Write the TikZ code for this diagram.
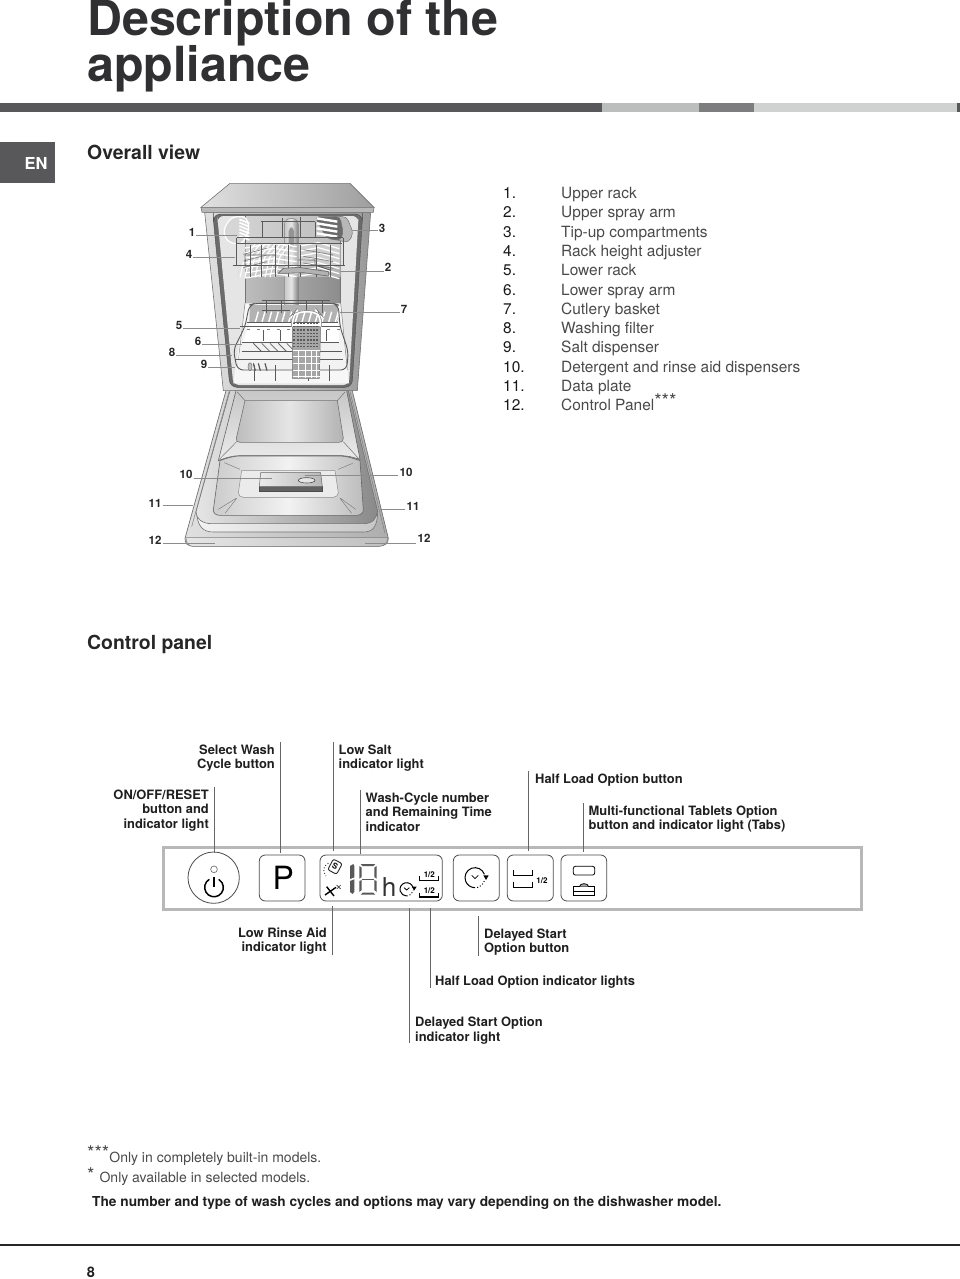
\documentclass[tikz,border=0pt]{standalone}
\usepackage{fontspec}
\setmainfont{TeX Gyre Heros}
\usetikzlibrary{calc}
\definecolor{barD}{HTML}{58585A}
\definecolor{barL}{HTML}{BCBEBE}
\definecolor{barM}{HTML}{7D7D80}
\definecolor{barX}{HTML}{D0D2D2}
\definecolor{ttl}{HTML}{303032}
\definecolor{txt}{HTML}{4A4A4C}
\definecolor{wire}{HTML}{5A5A5A}
\tikzset{
 fn/.style={font=\fontsize{12.9}{14.6}\selectfont\bfseries,inner sep=0pt,text=black!88},
 lr/.style={fn,align=left,inner xsep=5.5pt,inner ysep=2.5pt},
 rr/.style={fn,align=right,inner xsep=5pt,inner ysep=2.5pt},
 lo/.style={fn,align=left,inner xsep=5.5pt,inner ysep=0pt},
 ro/.style={fn,align=right,inner xsep=5pt,inner ysep=0pt},
 lead/.style={draw=black!60,line width=0.8pt},
 num/.style={font=\fontsize{11.5}{12}\selectfont\bfseries,inner sep=1pt,text=black!85},
 nlead/.style={draw=black!45,line width=0.9pt},
 listn/.style={anchor=base west,inner sep=0pt,font=\fontsize{15.45}{16}\selectfont,text=black!90},
 listt/.style={anchor=base west,inner sep=0pt,font=\fontsize{15.45}{16}\selectfont,text=txt},
 head/.style={anchor=base west,inner sep=0pt,font=\fontsize{19.4}{22}\selectfont\bfseries,text=black!85},
 ttlfont/.style={anchor=base west,inner sep=0pt,font=\fontsize{48.4}{46}\selectfont\bfseries,text=ttl},
 btn/.style={draw=black!70,line width=0.8pt,rounded corners=6pt,fill=white},
 rl/.style={draw=wire,line width=0.9pt},
 small12/.style={inner sep=0pt,font=\fontsize{8}{8}\selectfont\bfseries},
}
\begin{document}
\begin{tikzpicture}[x=1pt,y=-1pt]
\useasboundingbox (0,0) rectangle (960,1279);
\fill[white] (0,0) rectangle (960,1279);
% title
\node[ttlfont] (t1) at (87,36) {Description of the};
\node[ttlfont] (t2) at (87,82) {appliance};
% colour bar
\fill[barD] (0,103) rectangle (602,112);
\fill[barL] (602,103) rectangle (699,112);
\fill[barM] (699,103) rectangle (754,112);
\fill[barX] (754,103) rectangle (957,112);
\fill[barD] (957,103) rectangle (960,112);
% EN
\fill[barD] (0,142) rectangle (55,183);
\node[inner sep=0pt,font=\fontsize{16.5}{18}\selectfont\bfseries,text=white] (en) at (36,163) {EN};
\node[head] (ov) at (87,159) {Overall view};
\node[head] (cp) at (87,649) {Control panel};
% ---------------- DOOR
\begin{scope}[shift={(130,370)},scale=1/3]
\path[draw=black!55,line width=0.7pt,left color=black!12,right color=black!32] (290,55) -- (165,505) .. controls (165,520) and (172,528) .. (190,529) -- (745,529) .. controls (765,528) and (775,520) .. (775,505) -- (665,55) -- cycle;
\path[draw=black!50,line width=0.5pt,left color=black!10,right color=black!25] (168,503) .. controls (168,520) and (175,528) .. (190,529) -- (745,529) .. controls (765,528) and (773,520) .. (773,503) -- cycle;
\draw[black!50,line width=0.5pt] (297,65) -- (185,470);
\draw[black!50,line width=0.5pt] (660,65) -- (765,490);
\path[draw=black!55,line width=0.6pt,left color=black!5,right color=black!22] (200,420) .. controls (200,470) and (220,486) .. (250,486) -- (700,486) .. controls (730,486) and (743,470) .. (743,420) -- cycle;
\path[draw=black!55,line width=0.6pt,left color=black!10,right color=black!46] (300,62) -- (198,425) .. controls (198,445) and (215,461) .. (245,461) -- (700,461) .. controls (728,461) and (742,445) .. (742,420) -- (655,62) -- cycle;
% top recess
\path[draw=black!60,line width=0.6pt,top color=black!22,bottom color=black!8] (318,62) -- (650,62) -- (690,268) .. controls (655,257) and (640,257) .. (630,257) -- (330,257) .. controls (310,257) and (290,262) .. (265,272) -- cycle;
\path[draw=black!55,line width=0.6pt,left color=black!26,right color=black!30,middle color=black!10] (345,92) -- (622,92) -- (640,205) .. controls (640,212) and (635,217) .. (628,217) -- (330,217) .. controls (322,217) and (318,212) .. (319,205) -- cycle;
\draw[black!55,line width=0.5pt] (322,66)--(345,92) (645,66)--(622,92) (268,268)--(320,215) (688,268)--(640,215);
% lower recess
\path[draw=black!60,line width=0.6pt,left color=black!20,right color=black!26,middle color=black!5] (270,272) .. controls (295,262) and (315,258) .. (330,258) -- (630,258) .. controls (650,258) and (670,265) .. (690,272) -- (700,420) .. controls (700,430) and (690,436) .. (680,436) -- (270,436) .. controls (258,436) and (250,430) .. (250,420) -- cycle;
\path[draw=black!45,line width=0.5pt,fill=black!8] (335,302) -- (615,302) -- (625,368) .. controls (625,376) and (618,382) .. (610,382) -- (340,382) .. controls (332,382) and (325,376) .. (325,368) -- cycle;
\draw[black!50,line width=0.5pt] (283,278)--(330,298) (668,280)--(625,298) (320,385)--(285,430) (318,385)--(265,418) (630,385)--(665,430) (632,385)--(677,418);
% dispenser
\path[fill=black!62,draw=black!70,line width=0.4pt] (388,348) rectangle (577,363);
\path[draw=black!60,line width=0.5pt,left color=black!8,right color=black!28] (392,308) -- (572,308) -- (577,350) -- (388,350) -- cycle;
\draw[black!70,line width=0.6pt,fill=black!10] (530,331) ellipse (25 and 8);
\end{scope}
% ---------------- CABINET
\begin{scope}[shift={(130,170)},scale=1/3]
\path[draw=black!55,line width=0.6pt,left color=black!12,right color=black!40] (224,127) -- (280,662) -- (682,662) -- (722,127) -- cycle;
\path[fill=black!58,draw=black!70,line width=0.4pt,rounded corners=7pt] (250,150) -- (250,132) -- (697,132) -- (697,150) -- (666,652) -- (300,652) -- cycle;
\path[fill=black!10,rounded corners=6pt] (263,150) -- (263,138) -- (685,138) -- (685,150) -- (657,645) -- (310,645) -- cycle;
% back wall
\path[left color=black!18,right color=black!26] (345,138) rectangle (632,290);
\path[left color=black!26,right color=black!45] (345,290) rectangle (632,405);
\path[fill=black!6] (345,405) rectangle (632,640);
\draw[black!55,line width=0.5pt] (345,138)--(345,400) (632,138)--(632,400);
\path[fill=black!3] (310,640)--(345,400)--(632,400)--(657,640)--cycle;
\draw[black!50,line width=0.5pt] (345,400)--(322,600) (632,400)--(652,600);
% top
\path[draw=black!55,line width=0.6pt,left color=black!12,right color=black!38] (300,40) -- (660,40) -- (732,112) -- (213,112) -- cycle;
\path[draw=black!55,line width=0.6pt,fill=black!28] (213,112) -- (732,112) -- (730,127) -- (216,127) -- cycle;
% spray tube
\path[draw=black!50,line width=0.5pt,left color=black!22,right color=black!50,middle color=black!10] (463,420) -- (463,165) .. controls (463,150) and (475,145) .. (484,145) .. controls (495,145) and (505,150) .. (505,165) -- (505,420) -- cycle;
\path[fill=black!42,rounded corners=4pt] (476,235) -- (476,172) -- (492,172) -- (492,235) -- cycle;
% tip-up left
\path[draw=white,line width=1.2pt,fill=black!16,rounded corners=5pt] (280,178) -- (305,140) -- (350,140) -- (358,178) -- (335,225) -- (290,215) -- cycle;
\foreach \y in {148,158,...,198}{\draw[white,line width=1.6pt] (328,\y) -- (358,\y+12) ;}
% tip-up right
\path[draw=black!55,line width=0.5pt,fill=black!28,rounded corners=4pt] (600,140) -- (650,140) -- (670,190) -- (655,218) -- (600,205) -- cycle;
\path[draw=black!55,line width=0.5pt,fill=black!58,rounded corners=4pt] (555,140) -- (630,140) -- (640,190) -- (630,212) -- (590,205) -- cycle;
\foreach \y in {145,160,...,190}{\draw[white,line width=2.4pt] (560,\y) -- (622,\y+10);}
% upper rack white zigzag
\path[fill=black!12,opacity=.45] (320,222) rectangle (640,322);
\foreach \x in {330,345,...,435}{\draw[white,line width=1.1pt] (\x,322) -- (\x+14,262) -- (\x+45,222);}
\foreach \y in {228,243,...,318}{\draw[white,line width=1.3pt] (510,\y) -- (565,\y-10) -- (628,\y+8);}
\foreach \y in {228,243,...,318}{\draw[white,line width=1.3pt] (345,\y+6) -- (430,\y-8) -- (500,\y+2);}
\foreach \y in {245,265,285}{\draw[black!50,line width=0.7pt] (340,\y+8) -- (410,\y-10);\draw[black!50,line width=0.7pt] (520,\y-6) -- (610,\y+10);}
\path[fill=black!15] (463,292) rectangle (505,312);
% wires of upper rack
\draw[rl] (320,203) -- (640,203) (318,203) -- (318,285) -- (345,285) (640,203) -- (640,285) (308,285) -- (645,285);
\draw[rl] (322,220) -- (636,220);
\draw[rl] (392,155) -- (555,155) (398,155)--(398,205) (510,140)--(510,205) (458,145)--(458,205) (555,155)--(555,200);
\foreach \x in {360,395,435,475,510,560,600}{\draw[rl] (\x,225) -- (\x,320);}
\draw[rl] (345,285) -- (345,255) -- (440,255) (505,270) -- (555,270) -- (555,285) -- (600,300);
% arm
\path[draw=black!60,line width=0.6pt,fill=black!30] (445,310) -- (460,295) -- (505,292) -- (595,305) -- (595,318) -- (520,308) -- (460,310) -- cycle;
% lower rack
\path[fill=black!5,draw=none] (358,405) -- (625,405) -- (640,510) -- (650,600) -- (320,600) -- (335,510) -- cycle;
\path[fill=white] (360,458) -- (625,458) -- (628,518) -- (338,518) -- cycle;
\path[fill=black!30] (360,405) -- (625,405) -- (622,458) -- (358,458) -- cycle;
\foreach \x in {375,395,...,615}{\draw[white,line width=1.4pt] (\x,460) -- (\x+10,425);}
\foreach \x in {350,380,...,620}{\draw[black!50,line width=0.5pt,dashed] (\x,478) -- (\x+14,478);}
\foreach \x in {370,395,...,470}{\draw[black!60,line width=0.8pt] (\x,520) -- (\x+25,545);}
\draw[rl,rounded corners=6pt] (375,400) -- (358,405) -- (345,470) -- (310,540) -- (322,600) -- (650,600) -- (655,545) -- (630,470) -- (625,405) -- (610,400) -- cycle;
\draw[rl] (335,518) -- (628,518) (335,545) -- (635,545) (315,568) -- (640,568) (352,458) -- (625,458) (330,470) -- (632,470);
\draw[rl] (395,392) -- (600,392) (410,392)--(410,430) (455,392)--(455,430) (530,392)--(530,420) (578,392)--(578,430);
\draw[rl] (395,422) -- (480,422);
\foreach \x in {372,435,535,597}{\draw[rl] (\x,585) -- (\x,632);}
\foreach \x in {400,450,590}{\draw[rl] (\x,480) -- (\x,512);}
\foreach \x in {370,385,405}{\draw[black!65,line width=1.2pt] (\x,580) -- (\x+6,602);}
\path[draw=black!55,line width=0.5pt,fill=black!25] (360,590) ellipse (6 and 12);
% basket
\path[draw=black!55,line width=0.5pt,fill=black!35] (487,470) -- (572,470) -- (568,625) -- (487,625) -- cycle;
\draw[white,line width=2pt,rounded corners=8pt] (487,470) -- (487,437) -- (497,425) -- (562,425) -- (572,437) -- (572,470);
\draw[black!55,line width=0.4pt,rounded corners=9pt] (484,470) -- (484,435) -- (496,422) -- (564,422) -- (575,435) -- (575,470);
\foreach \y in {460,470,...,530}{\draw[black!65,line width=1.2pt,dash pattern=on 2pt off 1.3pt] (490,\y) -- (568,\y);}
\foreach \y in {540,560,...,620}{\draw[white,line width=0.8pt] (488,\y) -- (569,\y);}
\foreach \x in {505,525,545,560}{\draw[white,line width=0.8pt] (\x,540) -- (\x,625);}
\end{scope}
% number labels
\node[num] (n1) at (192,232) {1};
\coordinate (e1) at (237,235.7);
\draw[nlead] ([yshift=-3.7pt]n1.east) -- (e1);
\node[num] (n4) at (189,254) {4};
\coordinate (e4) at (235,257.4);
\draw[nlead] ([yshift=-3.4pt]n4.east) -- (e4);
\node[num] (n3) at (382,228) {3};
\coordinate (e3) at (352,230);
\draw[nlead] ([yshift=-2pt]n3.west) -- (e3);
\node[num] (n2) at (388,267) {2};
\coordinate (e2) at (340,271);
\draw[nlead] ([yshift=-4pt]n2.west) -- (e2);
\node[num] (n7) at (404,309) {7};
\coordinate (e7) at (340,312);
\draw[nlead] ([yshift=-3pt]n7.west) -- (e7);
\node[num] (n5) at (179,325) {5};
\coordinate (e5) at (240,328);
\draw[nlead] ([yshift=-3pt]n5.east) -- (e5);
\node[num] (n6) at (198,341) {6};
\coordinate (e6) at (242,344);
\draw[nlead] ([yshift=-3pt]n6.east) -- (e6);
\node[num] (n8) at (172,352) {8};
\coordinate (e8) at (232,355);
\draw[nlead] ([yshift=-3pt]n8.east) -- (e8);
\node[num] (n9) at (204,364) {9};
\coordinate (e9) at (235,367);
\draw[nlead] ([yshift=-3pt]n9.east) -- (e9);
\node[num] (n10) at (186,474) {10};
\coordinate (e10) at (272,478);
\draw[nlead] ([yshift=-4pt]n10.east) -- (e10);
\node[num] (m10) at (406,472) {10};
\coordinate (f10) at (305,475);
\draw[nlead] ([yshift=-3pt]m10.west) -- (f10);
\node[num] (n11) at (155,503) {11};
\coordinate (e11) at (193,505.5);
\draw[nlead] ([yshift=-2.5pt]n11.east) -- (e11);
\node[num] (m11) at (413,506) {11};
\coordinate (f11) at (380,509);
\draw[nlead] ([yshift=-3pt]m11.west) -- (f11);
\node[num] (n12) at (155,540) {12};
\coordinate (e12) at (215,543);
\draw[nlead] ([yshift=-3pt]n12.east) -- (e12);
\node[num] (m12) at (424,538) {12};
\coordinate (f12) at (365,543);
\draw[nlead] ([yshift=-5pt]m12.west) -- (f12);
% list
\foreach \i/\t [count=\k from 0] in {1./Upper rack,2./Upper spray arm,3./Tip-up compartments,4./Rack height adjuster,5./Lower rack,6./Lower spray arm,7./Cutlery basket,8./Washing filter,9./Salt dispenser,10./Detergent and rinse aid dispensers,11./Data plate}{
 \node[listn] (ln\k) at (503,198.5+19.3*\k) {\i};
 \node[listt] (lt\k) at (561,198.5+19.3*\k) {\t};
}
\node[listn] (ln11) at (503,410.8) {12.};
\node[listt] (lt11) at (561,410.8) {Control Panel\raisebox{3pt}{\fontsize{19}{19}\selectfont ***}};
% control panel
\draw[black!28,line width=3pt] (163,847.5) rectangle (861,909.5);
\begin{scope}[shift={(150,830)},scale=1/3]
\draw[black!70,line width=0.8pt,fill=white] (191,143) circle (77);
\draw[black!55,line width=0.7pt] (192,118) circle (10);
\draw[black,line width=1.5pt] (178,148) arc[start angle=240,end angle=-60,radius=28];
\draw[black,line width=1.5pt] (192,142) -- (192,172);
\path[btn] (328,75) rectangle (465,213);
\node[inner sep=0pt,font=\fontsize{32}{32}\selectfont] (pp) at (400,142) {P};
\path[btn] (510,75) rectangle (877,213);
% salt
\draw[black!85,line width=0.9pt,rounded corners=2pt,rotate around={-28:(555,110)}] (540,92) rectangle (570,128);
\node[inner sep=0pt,rotate=-28,font=\fontsize{8}{8}\selectfont\bfseries] (sl) at (555,110) {S};
\draw[black!85,line width=0.9pt,dotted] (535,100) .. controls (518,108) and (518,125) .. (528,138);
% rinse
\draw[black,line width=1.4pt] (525,195) -- (558,172) (530,170) -- (552,198);
\draw[black!80,line width=0.6pt] (560,165) -- (572,177) (572,165) -- (560,177);
% digits
\fill[black!65] (600,108) -- (610,102) -- (613,108) -- (613,142) -- (600,147) -- cycle;
\fill[black!65] (600,153) -- (613,148) -- (613,185) -- (608,192) -- (600,186) -- cycle;
\fill[black!65] (628,108) -- (635,113) -- (635,141) -- (628,146) -- cycle;
\fill[black!65] (628,153) -- (635,150) -- (635,180) -- (628,186) -- cycle;
\fill[black!65] (680,108) -- (673,113) -- (673,141) -- (680,146) -- cycle;
\fill[black!65] (680,153) -- (673,150) -- (673,180) -- (680,186) -- cycle;
\fill[black!65] (632,102) -- (676,102) -- (670,108) -- (638,108) -- cycle;
\fill[black!65] (637,146) -- (671,146) -- (671,151) -- (637,151) -- cycle;
\fill[black!65] (632,194) -- (676,194) -- (670,188) -- (638,188) -- cycle;
\node[inner sep=0pt,anchor=base,font=\fontsize{26}{26}\selectfont,text=black!80] (hh) at (717,198) {h};
% clock small
\draw[black,line width=1pt] (770,178) ++(-15:20) arc[start angle=-15,end angle=-270,radius=20];
\draw[black,line width=1pt,dotted] (770,178) ++(-270:20) arc[start angle=-270,end angle=-350,radius=20];
\draw[black,line width=0.8pt] (762,173) -- (770,180) -- (778,173);
\fill[black] (786,170) -- (800,170) -- (792,182) -- cycle;
% half loads
\foreach \y in {151,201}{\draw[black,line width=1.5pt] (809,\y-13) -- (809,\y) -- (866,\y) -- (866,\y-13);}
\node[small12] (h1) at (838,134) {1/2};
\node[small12] (h2) at (838,183) {1/2};
\end{scope}
\begin{scope}[shift={(440,830)},scale=1/3]
\path[btn] (40,75) rectangle (178,213);
\draw[black,line width=1pt] (105,143) ++(-20:30) arc[start angle=-20,end angle=-265,radius=30];
\draw[black,line width=1pt,dotted] (105,143) ++(-265:30) arc[start angle=-265,end angle=-350,radius=30];
\draw[black,line width=0.8pt] (95,136) -- (105,146) -- (115,136);
\fill[black] (130,136) -- (146,136) -- (138,150) -- cycle;
\path[btn] (202,75) rectangle (340,213);
\draw[black,line width=0.9pt] (220,120) -- (220,137) -- (276,137) -- (276,120) (220,155) -- (220,173) -- (276,173) -- (276,155);
\node[small12] (hb) at (306,151) {1/2};
\path[btn] (363,75) rectangle (500,213);
\draw[black,line width=0.8pt,rounded corners=2pt] (400,109) rectangle (464,135);
\draw[black,line width=0.8pt] (401,170) rectangle (463,196) (401,183) -- (463,183);
\draw[black,line width=0.8pt,fill=black!35] (418,170) .. controls (420,158) and (444,158) .. (446,170);
\end{scope}
% control-panel labels
\node[rr,anchor=north east] (onoff) at (214,787) {ON/OFF/RESET\\button and\\indicator light};
\coordinate (onoffE) at (214,853);
\draw[lead] (onoff.north east) -- (onoffE);
\node[rr,anchor=north east] (sel) at (280,742) {Select Wash\\Cycle button};
\coordinate (selE) at (280,853);
\draw[lead] (sel.north east) -- (selE);
\node[lr,anchor=north west] (salt) at (333,742) {Low Salt\\indicator light};
\coordinate (saltE) at (333,851);
\draw[lead] (salt.north west) -- (saltE);
\node[lr,anchor=north west] (wash) at (360,790) {Wash-Cycle number\\and Remaining Time\\indicator};
\coordinate (washE) at (360,854);
\draw[lead] (wash.north west) -- (washE);
\node[lr,anchor=north west,inner xsep=7pt] (hlb) at (528,771) {Half Load Option button};
\coordinate (hlbE) at (528,851);
\draw[lead] (hlb.north west) -- (hlbE);
\node[lr,anchor=north west] (tab) at (583,803) {Multi-functional Tablets Option\\button and indicator light (Tabs)};
\coordinate (tabE) at (583,852);
\draw[lead] (tab.north west) -- (tabE);
\node[ro,anchor=south east] (rin) at (332,955) {Low Rinse Aid\\indicator light};
\coordinate (rinE) at (332,906);
\draw[lead] (rin.south east) -- (rinE);
\node[lo,anchor=south west,inner xsep=6pt] (dsb) at (478,956) {Delayed Start\\Option button};
\coordinate (dsbE) at (478,916);
\draw[lead] (dsb.south west) -- (dsbE);
\node[lo,anchor=south west,inner xsep=5pt,inner ysep=-1pt] (hli) at (430,988) {Half Load Option indicator lights};
\coordinate (hliE) at (430,908);
\draw[lead] (hli.south west) -- (hliE);
\node[lo,anchor=south west,inner xsep=6pt,inner ysep=-1pt] (dsi) at (409,1043) {Delayed Start Option\\indicator light};
\coordinate (dsiE) at (409,908);
\draw[lead] (dsi.south west) -- (dsiE);
% footnotes
\node[anchor=base west,inner sep=0pt,font=\fontsize{14}{14}\selectfont,text=txt] (f1) at (87,1162) {\raisebox{3pt}{\fontsize{19}{19}\selectfont ***}Only in completely built-in models.};
\node[anchor=base west,inner sep=0pt,font=\fontsize{14}{14}\selectfont,text=txt] (f2) at (87,1182) {\raisebox{1pt}{\fontsize{19}{19}\selectfont *}\hspace{5pt}Only available in selected models.};
\node[anchor=base west,inner sep=0pt,font=\fontsize{13.72}{15}\selectfont\bfseries,text=black!88] (f3) at (92,1206) {The number and type of wash cycles and options may vary depending on the dishwasher model.};
% bottom
\draw[black!85,line width=1.4pt] (0,1245) -- (960,1245);
\node[inner sep=0pt,font=\fontsize{14.5}{15}\selectfont\bfseries,text=black!88] (pg) at (91,1272) {8};
\end{tikzpicture}
\end{document}
